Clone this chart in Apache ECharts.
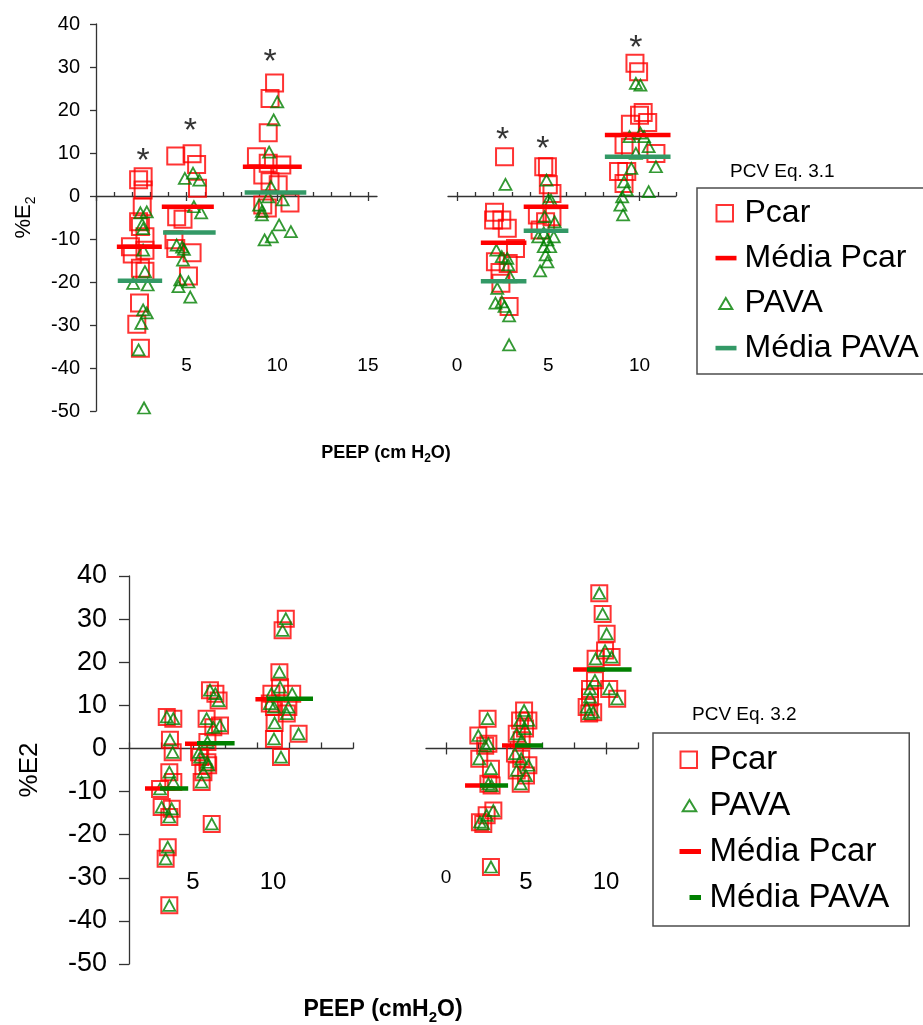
<!DOCTYPE html>
<html>
<head>
<meta charset="utf-8">
<script src="https://cdn.jsdelivr.net/npm/echarts@6/dist/echarts.min.js"></script>
<style>
  html, body { margin: 0; padding: 0; background: #ffffff; }
  #chart { width: 923px; height: 1025px; }
</style>
</head>
<body>
<div id="chart"></div>
<script>
// ---------- PCV Eq. 3.1 : left block ([PEEP jitter, %E2]) ----------
const EQ31_L_PCAR = [
  [2.6, 4.5], [2.35, 3.8], [2.6, 1.4], [2.55, -2.5], [2.45, -7.1], [2.35, -6.0], [2.7, -9.5],
  [1.9, -11.8], [2.7, -12.6], [2.0, -13.5], [2.45, -16.8], [2.7, -17.5], [2.4, -24.9], [2.25, -29.8], [2.45, -35.4],
  [4.4, 9.3], [5.3, 9.8], [5.55, 7.3], [5.6, 1.8], [4.45, -4.8], [4.8, -5.4], [4.3, -10.2], [4.4, -12.2],
  [5.3, -13.2], [5.1, -18.6],
  [9.85, 26.3], [9.6, 22.7], [9.5, 14.7], [8.85, 9.1], [9.5, 7.6], [10.25, 7.2], [9.2, 4.9], [9.6, 3.3],
  [10.05, 2.6], [10.7, -1.6], [9.2, -2.1], [9.45, -2.8]
];
const EQ31_L_PAVA = [
  [2.45, -3.9], [2.8, -3.7], [2.55, -6.6], [2.6, -7.6], [2.6, -12.6], [2.7, -17.6], [2.05, -20.3], [2.85, -20.7],
  [2.6, -26.5], [2.8, -27.2], [2.5, -29.6], [2.35, -35.8], [2.65, -49.3],
  [4.9, 4.1], [5.35, 5.3], [5.7, 3.7], [5.4, -2.5], [5.8, -3.9], [4.45, -11.4], [4.75, -11.9], [4.85, -12.4],
  [4.8, -14.9], [4.65, -19.5], [5.1, -20.0], [4.55, -21.1], [5.2, -23.5],
  [10.0, 21.9], [9.8, 17.7], [9.55, 10.2], [9.65, 2.2], [9.5, -0.2], [10.3, -0.9], [9.0, -2.1], [9.15, -3.6],
  [9.15, -4.4], [10.1, -6.7], [10.75, -8.3], [9.7, -9.5], [9.3, -10.2]
];
// mean segments: [x start, x end, mean]
const EQ31_L_PCAR_MEAN = [[1.15, 3.63, -11.8], [3.63, 6.5, -2.5], [8.1, 11.35, 6.8]];
const EQ31_L_PAVA_MEAN = [[1.2, 3.65, -19.7], [3.7, 6.6, -8.5], [8.2, 11.6, 0.8]];
const EQ31_L_STARS = [[2.6, 9.5], [5.2, 16.3], [9.6, 32.3]];

// ---------- PCV Eq. 3.1 : right block ----------
const EQ31_R_PCAR = [
  [2.6, 9.1], [2.05, -3.8], [2.0, -5.6], [2.45, -5.6], [2.75, -7.5], [3.2, -12.2], [2.1, -15.3], [2.8, -15.7],
  [2.35, -17.8], [2.4, -20.3], [2.85, -25.7],
  [4.75, 6.8], [4.95, 6.8], [5.0, 2.6], [5.2, 0.6], [4.4, -4.4], [5.2, -4.8], [4.85, -6.0], [4.55, -7.9],
  [9.75, 30.9], [9.95, 28.9], [10.2, 19.4], [10.0, 18.8], [9.5, 16.7], [10.45, 17.1], [9.15, 11.9], [9.5, 11.3],
  [10.9, 9.9], [8.85, 5.7], [9.3, 5.7], [9.15, 2.9]
];
const EQ31_R_PAVA = [
  [2.65, 2.7], [2.15, -12.6], [2.45, -14.1], [2.75, -14.5], [2.8, -16.0], [2.9, -18.8], [2.2, -21.5], [2.1, -24.9],
  [2.45, -24.6], [2.6, -25.7], [2.85, -27.9], [2.85, -34.6],
  [4.9, 3.7], [5.0, -0.9], [5.15, -1.0], [4.8, -4.8], [5.35, -6.0], [4.75, -8.6], [4.45, -9.5], [5.3, -9.5],
  [4.95, -10.2], [4.75, -11.8], [5.1, -11.8], [4.85, -13.7], [4.95, -15.3], [4.55, -17.4],
  [9.8, 26.2], [10.05, 25.8], [9.45, 13.8], [10.05, 14.6], [10.25, 13.8], [10.5, 11.5], [9.8, 9.9], [10.9, 6.8],
  [9.55, 6.4], [9.15, 3.3], [9.3, 1.4], [10.5, 1.0], [9.05, -0.2], [8.95, -2.1], [9.1, -4.4]
];
const EQ31_R_PCAR_MEAN = [[1.3, 3.8, -10.9], [3.65, 6.1, -2.5], [8.1, 11.7, 14.2]];
const EQ31_R_PAVA_MEAN = [[1.3, 3.8, -19.8], [3.65, 6.1, -8.1], [8.1, 11.7, 9.1]];
const EQ31_R_STARS = [[2.5, 14.2], [4.7, 12.1], [9.8, 35.6]];

// ---------- PCV Eq. 3.2 : left block ----------
const EQ32_L_PCAR = [
  [3.36, 7.3], [3.77, 6.9], [3.56, 2.0], [3.73, -0.9], [3.52, -5.5], [3.77, -7.8], [2.94, -9.4], [3.04, -13.6],
  [3.67, -14.0], [3.52, -15.9], [3.42, -22.9], [3.29, -25.6], [3.52, -36.4],
  [6.06, 13.5], [6.4, 12.7], [6.6, 11.1], [5.85, 6.9], [6.27, 4.9], [6.69, 5.3], [5.9, 1.5], [5.38, -0.9],
  [5.45, -2.0], [5.9, -3.2], [5.95, -3.9], [5.65, -5.5], [5.54, -7.8], [6.17, -17.5],
  [10.8, 30.1], [10.6, 27.4], [10.4, 17.7], [10.44, 14.2], [9.9, 12.7], [11.2, 12.7], [9.8, 10.4], [10.06, 9.6],
  [10.96, 9.6], [10.86, 8.1], [10.1, 5.9], [11.6, 3.4], [10.06, 2.2], [10.5, -2.0]
];
const EQ32_L_PAVA = [
  [3.36, 7.3], [3.77, 6.9], [3.56, 2.0], [3.73, -0.9], [3.52, -5.5], [3.77, -7.8], [2.94, -9.4], [3.04, -13.6],
  [3.67, -14.0], [3.52, -15.9], [3.42, -22.9], [3.29, -25.6], [3.52, -36.4],
  [6.06, 13.5], [6.4, 12.7], [6.6, 11.1], [5.85, 6.9], [6.27, 4.9], [6.69, 5.3], [5.9, 1.5], [5.38, -0.9],
  [5.45, -2.0], [5.9, -3.2], [5.95, -3.9], [5.65, -5.5], [5.54, -7.8], [6.17, -17.5],
  [10.8, 30.1], [10.6, 27.4], [10.4, 17.7], [10.44, 14.2], [9.9, 12.7], [11.2, 12.7], [9.8, 10.4], [10.06, 9.6],
  [10.96, 9.6], [10.86, 8.1], [10.1, 5.9], [11.6, 3.4], [10.06, 2.2], [10.5, -2.0]
];
const EQ32_L_PCAR_MEAN = [[2.0, 3.9, -9.3], [4.5, 6.4, 1.1], [8.9, 10.75, 11.4]];
const EQ32_L_PAVA_MEAN = [[2.94, 4.7, -9.3], [5.25, 7.6, 1.2], [9.6, 12.5, 11.5]];

// ---------- PCV Eq. 3.2 : right block ----------
const EQ32_R_PCAR = [
  [2.6, 6.9], [2.02, 3.0], [2.65, 1.1], [2.45, 0.6], [2.08, -2.4], [2.81, -4.7], [2.65, -8.2], [2.85, -8.6],
  [2.96, -14.4], [2.54, -15.5], [2.12, -17.1], [2.33, -17.5], [2.81, -27.5],
  [4.88, 8.8], [5.15, 6.5], [4.63, 6.5], [4.94, 4.6], [4.42, 3.4], [4.73, 1.9], [4.31, -1.2], [4.7, -2.4],
  [5.15, -3.9], [4.42, -5.1], [5.0, -6.3], [4.67, -8.2],
  [9.58, 36.0], [9.79, 31.2], [10.04, 26.6], [9.94, 22.7], [10.35, 21.2], [9.35, 20.8], [9.31, 15.8], [10.2, 13.8],
  [9.0, 13.8], [9.0, 11.9], [10.7, 11.5], [8.79, 9.6], [9.2, 8.4], [8.95, 8.1]
];
const EQ32_R_PAVA = [
  [2.6, 6.9], [2.02, 3.0], [2.65, 1.1], [2.45, 0.6], [2.08, -2.4], [2.81, -4.7], [2.65, -8.2], [2.85, -8.6],
  [2.96, -14.4], [2.54, -15.5], [2.12, -17.1], [2.33, -17.5], [2.81, -27.5],
  [4.88, 8.8], [5.15, 6.5], [4.63, 6.5], [4.94, 4.6], [4.42, 3.4], [4.73, 1.9], [4.31, -1.2], [4.7, -2.4],
  [5.15, -3.9], [4.42, -5.1], [5.0, -6.3], [4.67, -8.2],
  [9.58, 36.0], [9.79, 31.2], [10.04, 26.6], [9.94, 22.7], [10.35, 21.2], [9.35, 20.8], [9.31, 15.8], [10.2, 13.8],
  [9.0, 13.8], [9.0, 11.9], [10.7, 11.5], [8.79, 9.6], [9.2, 8.4], [8.95, 8.1]
];
const EQ32_R_PCAR_MEAN = [[1.19, 3.06, -8.6], [3.5, 5.25, 0.7], [7.94, 9.94, 18.3]];
const EQ32_R_PAVA_MEAN = [[2.12, 3.88, -8.6], [4.31, 6.06, 0.7], [8.81, 11.6, 18.3]];

// ---------- axis ticks and tick labels ----------
const Y_TICKS = [-50, -40, -30, -20, -10, 0, 10, 20, 30, 40];
const EQ31_L_MINOR = [1, 2, 3, 4, 5, 6, 7, 8, 9, 10, 11, 12, 13, 14, 15];
const EQ31_L_MAJOR = [0, 5, 10, 15];
const EQ31_L_LABELS = [5, 10, 15];
const EQ31_R_MINOR = [0, 1, 2, 3, 4, 5, 6, 7, 8, 9, 10, 11, 12];
const EQ31_R_MAJOR = [0, 5, 10];
const EQ31_R_LABELS = [0, 5, 10];
const EQ32_L_MINOR = [1, 3, 5, 7, 9, 11, 13, 15];
const EQ32_L_LABELS = [5, 10];
const EQ32_R_MINOR = [0, 2, 4, 6, 8, 10, 12];
const EQ32_R_MAJOR = [0, 10];
const EQ32_R_LABELS = [0, 5, 10];

const FONT = '"Liberation Sans", Arial, Helvetica, sans-serif';
const RED = '#ff0000';
const GREEN = '#008000';
const TEAL = '#339966';
const AXIS = '#333333';

function meanLine(segs) {
  const out = [];
  segs.forEach(([a, b, m], i) => {
    if (i) out.push(['-', '-']);
    out.push([a, m], [b, m]);
  });
  return out;
}

// Grid layout in pixels plus the x range of each block
const GRIDS = [
  { left: 96,  top: 24,  width: 281, height: 387, min: 0,     max: 15.5 },
  { left: 448, top: 24,  width: 228, height: 387, min: -0.5,  max: 12 },
  { left: 129, top: 576, width: 224, height: 388, min: 1,     max: 15 },
  { left: 426, top: 576, width: 212, height: 388, min: -1.25, max: 12 }
];

const xAxes = [];
function addXAxes(g, minor, major, labels, cfg) {
  const G = GRIDS[g];
  const main = xAxes.length;
  // axis line through y = 0 with short upward ticks
  xAxes.push({
    type: 'value', gridIndex: g, position: 'bottom', min: G.min, max: G.max,
    axisLine: { show: true, onZero: true, onZeroAxisIndex: g, lineStyle: { color: AXIS, width: 1.3 } },
    axisTick: { show: true, inside: true, length: cfg.minorLen, customValues: minor, lineStyle: { color: AXIS, width: 1.3 } },
    axisLabel: { show: false }, splitLine: { show: false }
  });
  // downward half of the major (crossing) ticks
  if (major.length) {
    xAxes.push({
      type: 'value', gridIndex: g, position: 'top', min: G.min, max: G.max,
      axisLine: { show: true, onZero: true, onZeroAxisIndex: g, lineStyle: { color: 'rgba(0,0,0,0)', width: 0 } },
      axisTick: { show: true, inside: true, length: cfg.majorLen, customValues: major, lineStyle: { color: AXIS, width: 1.3 } },
      axisLabel: { show: false }, splitLine: { show: false }
    });
  }
  // tick labels sitting low inside the plot
  xAxes.push({
    type: 'value', gridIndex: g, position: 'bottom', min: G.min, max: G.max,
    axisLine: { show: false, onZero: false }, axisTick: { show: false }, splitLine: { show: false },
    axisLabel: {
      show: true, inside: true, margin: cfg.margin, customValues: labels,
      fontSize: cfg.fontSize, fontFamily: FONT, color: '#000',
      formatter: cfg.formatter || (v => String(v)),
      rich: cfg.rich || {}
    }
  });
  return main;
}

const xi0 = addXAxes(0, EQ31_L_MINOR, EQ31_L_MAJOR, EQ31_L_LABELS, { minorLen: 4, majorLen: 5, margin: 36, fontSize: 19 });
const xi1 = addXAxes(1, EQ31_R_MINOR, EQ31_R_MAJOR, EQ31_R_LABELS, { minorLen: 4, majorLen: 5, margin: 36, fontSize: 19 });
const xi2 = addXAxes(2, EQ32_L_MINOR, [], EQ32_L_LABELS, { minorLen: 6, majorLen: 6, margin: 70, fontSize: 24 });
const xi3 = addXAxes(3, EQ32_R_MINOR, EQ32_R_MAJOR, EQ32_R_LABELS, {
  minorLen: 6, majorLen: 6, margin: 70, fontSize: 24,
  formatter: v => (v === 0 ? '{s|0}' : String(v)),
  rich: { s: { fontSize: 19, fontFamily: FONT, color: '#000', padding: [0, 0, 7, 0] } }
});

function visibleY(g, cfg) {
  return {
    type: 'value', gridIndex: g, min: -50, max: 40, interval: 10,
    axisLine: { show: true, onZero: false, lineStyle: { color: AXIS, width: 1.3 } },
    axisTick: { show: true, length: cfg.tickLen, customValues: Y_TICKS, lineStyle: { color: AXIS, width: 1.3 } },
    axisLabel: { fontSize: cfg.fontSize, fontFamily: FONT, color: '#000', margin: cfg.margin },
    splitLine: { show: false },
    name: cfg.name, nameLocation: 'middle', nameRotate: 90, nameGap: cfg.nameGap,
    nameTextStyle: cfg.nameStyle
  };
}
const yAxes = [
  visibleY(0, {
    tickLen: 6, fontSize: 20, margin: 16, nameGap: 58, name: '%E{s|2}',
    nameStyle: { fontSize: 22, fontFamily: FONT, color: '#000', lineHeight: 28,
      rich: { s: { fontSize: 14, fontFamily: FONT, color: '#000', verticalAlign: 'bottom' } } }
  }),
  { type: 'value', gridIndex: 1, min: -50, max: 40, interval: 10, show: false, splitLine: { show: false } },
  visibleY(2, {
    tickLen: 10, fontSize: 27, margin: 22, nameGap: 86, name: '%E2',
    nameStyle: { fontSize: 26, fontFamily: FONT, color: '#000' }
  }),
  { type: 'value', gridIndex: 3, min: -50, max: 40, interval: 10, show: false, splitLine: { show: false } }
];

function squares(name, data, xIdx, yIdx, size) {
  return { type: 'scatter', name, data, xAxisIndex: xIdx, yAxisIndex: yIdx, symbol: 'rect', symbolSize: size,
    itemStyle: { color: 'rgba(0,0,0,0)', borderColor: RED, borderWidth: 2 }, silent: true };
}
function triangles(name, data, xIdx, yIdx) {
  return { type: 'scatter', name, data, xAxisIndex: xIdx, yAxisIndex: yIdx, symbol: 'triangle', symbolSize: [12, 11],
    itemStyle: { color: 'rgba(0,0,0,0)', borderColor: GREEN, borderWidth: 1.8 }, silent: true };
}
function means(name, segs, color, xIdx, yIdx) {
  return { type: 'line', name, data: meanLine(segs), xAxisIndex: xIdx, yAxisIndex: yIdx, symbol: 'none',
    connectNulls: false, lineStyle: { color, width: 4.5, cap: 'butt' }, itemStyle: { color }, silent: true };
}
function stars(data, xIdx, yIdx) {
  return { type: 'scatter', name: 'stars', data, xAxisIndex: xIdx, yAxisIndex: yIdx, symbolSize: 1,
    itemStyle: { color: 'rgba(0,0,0,0)' }, silent: true,
    label: { show: true, position: 'inside', formatter: '*', fontSize: 34, fontFamily: FONT, color: '#000', offset: [0, 6] } };
}

const series = [
  squares('Pcar', EQ31_L_PCAR, xi0, 0, 17),
  means('Média Pcar', EQ31_L_PCAR_MEAN, RED, xi0, 0),
  triangles('PAVA', EQ31_L_PAVA, xi0, 0),
  means('Média PAVA', EQ31_L_PAVA_MEAN, TEAL, xi0, 0),
  stars(EQ31_L_STARS, xi0, 0),
  squares('Pcar', EQ31_R_PCAR, xi1, 1, 17),
  means('Média Pcar', EQ31_R_PCAR_MEAN, RED, xi1, 1),
  triangles('PAVA', EQ31_R_PAVA, xi1, 1),
  means('Média PAVA', EQ31_R_PAVA_MEAN, TEAL, xi1, 1),
  stars(EQ31_R_STARS, xi1, 1),
  squares('Pcar', EQ32_L_PCAR, xi2, 2, 16),
  triangles('PAVA', EQ32_L_PAVA, xi2, 2),
  means('Média Pcar', EQ32_L_PCAR_MEAN, RED, xi2, 2),
  means('Média PAVA', EQ32_L_PAVA_MEAN, GREEN, xi2, 2),
  squares('Pcar', EQ32_R_PCAR, xi3, 3, 16),
  triangles('PAVA', EQ32_R_PAVA, xi3, 3),
  means('Média Pcar', EQ32_R_PCAR_MEAN, RED, xi3, 3),
  means('Média PAVA', EQ32_R_PAVA_MEAN, GREEN, xi3, 3)
];

// legend icons (invisible corner moves fix the icon box)
const ICON_SQ = 'path://M0,0M24,18M1,1h16.5v16.5h-16.5z';
const ICON_TRI = 'path://M0,0M24,18M10.3,4L16.8,15L3.8,15Z';
const ICON_BAR = 'path://M0,0M24,18M0,6.8h21v4.6h-21z';
const ICON_SQ_B = 'path://M0,0M25,18M1,1h16.5v16.5h-16.5z';
const ICON_TRI_B = 'path://M0,0M25,18M10,3.5L16.8,14.8L3.2,14.8Z';
const ICON_BAR_B = 'path://M0,0M25,18M0,6.5h21.5v5h-21.5z';
const ICON_DASH_B = 'path://M0,0M25,18M10,6.5h11.5v5h-11.5z';

const emptyStyle = c => ({ color: 'none', borderColor: c, borderWidth: 2 });
const solidStyle = c => ({ color: c, borderWidth: 0 });

const legends = [
  {
    orient: 'vertical', left: 697, top: 188, padding: [9, 18, 10, 16], itemGap: 13,
    itemWidth: 24, itemHeight: 18, borderColor: '#4d4d4d', borderWidth: 1.5, selectedMode: false,
    textStyle: { fontSize: 32, fontFamily: FONT, color: '#000' },
    data: [
      { name: 'Pcar', icon: ICON_SQ, itemStyle: emptyStyle(RED) },
      { name: 'Média Pcar', icon: ICON_BAR, itemStyle: solidStyle(RED) },
      { name: 'PAVA', icon: ICON_TRI, itemStyle: emptyStyle(GREEN) },
      { name: 'Média PAVA', icon: ICON_BAR, itemStyle: solidStyle(TEAL) }
    ]
  },
  {
    orient: 'vertical', left: 653, top: 733, padding: [10, 20, 12, 24], itemGap: 13,
    itemWidth: 25, itemHeight: 18, borderColor: '#4d4d4d', borderWidth: 1.5, selectedMode: false,
    textStyle: { fontSize: 33, fontFamily: FONT, color: '#000' },
    data: [
      { name: 'Pcar', icon: ICON_SQ_B, itemStyle: emptyStyle(RED) },
      { name: 'PAVA', icon: ICON_TRI_B, itemStyle: emptyStyle(GREEN) },
      { name: 'Média Pcar', icon: ICON_BAR_B, itemStyle: solidStyle(RED) },
      { name: 'Média PAVA', icon: ICON_DASH_B, itemStyle: solidStyle(GREEN) }
    ]
  }
];

const graphic = [
  { type: 'text', x: 730, y: 172, style: { text: 'PCV Eq. 3.1', fontSize: 19, fontFamily: FONT, fill: '#000', verticalAlign: 'middle' } },
  { type: 'text', x: 692, y: 715, style: { text: 'PCV Eq. 3.2', fontSize: 19, fontFamily: FONT, fill: '#000', verticalAlign: 'middle' } },
  { type: 'text', x: 386, y: 453, style: {
      text: 'PEEP (cm H{s|2}O)', fontSize: 18, fontWeight: 'bold', fontFamily: FONT, fill: '#000',
      align: 'center', verticalAlign: 'middle', lineHeight: 24,
      rich: { s: { fontSize: 12, fontWeight: 'bold', fontFamily: FONT, fill: '#000', verticalAlign: 'bottom' } } } },
  { type: 'text', x: 383, y: 1010, style: {
      text: 'PEEP (cmH{s|2}O)', fontSize: 23, fontWeight: 'bold', fontFamily: FONT, fill: '#000',
      align: 'center', verticalAlign: 'middle', lineHeight: 30,
      rich: { s: { fontSize: 15, fontWeight: 'bold', fontFamily: FONT, fill: '#000', verticalAlign: 'bottom' } } } }
];

const chart = echarts.init(document.getElementById('chart'), null, { renderer: 'canvas' });
chart.setOption({
  backgroundColor: '#ffffff',
  animation: false,
  grid: GRIDS.map(G => ({ left: G.left, top: G.top, width: G.width, height: G.height, containLabel: false })),
  xAxis: xAxes,
  yAxis: yAxes,
  legend: legends,
  graphic,
  series
});
</script>
</body>
</html>
